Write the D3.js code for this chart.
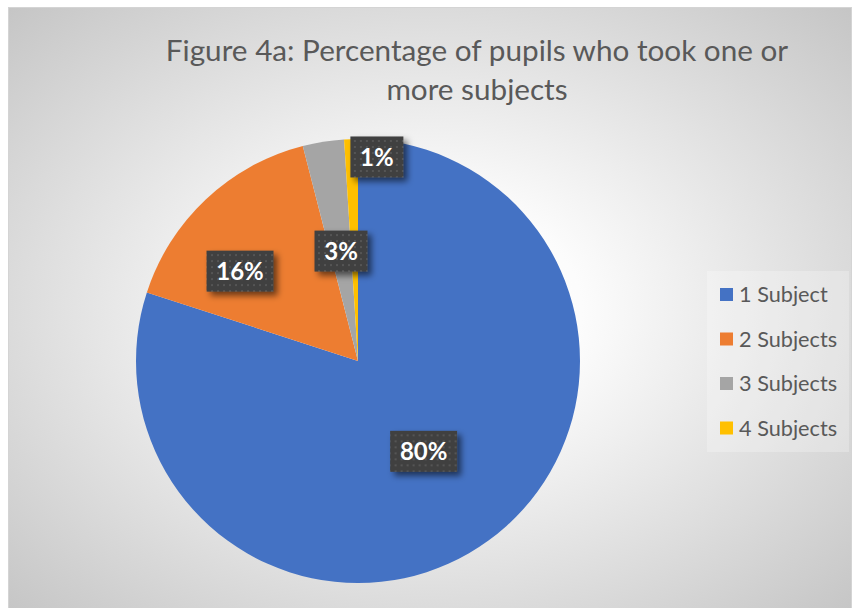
<!DOCTYPE html>
<html>
<head>
<meta charset="utf-8">
<script src="https://cdn.jsdelivr.net/npm/d3@7"></script>
<style>
  html, body { margin: 0; padding: 0; background: #ffffff; }
  svg { display: block; }
</style>
</head>
<body>
<svg id="chart" width="853" height="608"></svg>
<script>
// ---- data ----
const categories = ["1 Subject", "2 Subjects", "3 Subjects", "4 Subjects"];
const values = [80, 16, 3, 1];
const sliceColors = ["#4472C4", "#ED7D31", "#A5A5A5", "#FFC000"];
const titleLines = ["Figure 4a: Percentage of pupils who took one or", "more subjects"];

// ---- label placement (best-fit style): fraction of the radius and
// position along the slice's angular span (0 = start, 1 = end) ----
const labelRadiusFrac = [0.503, 0.668, 0.501, 0.923];
const labelSpanFrac = [0.5, 0.335, 0.52, 2.47];

const W = 853, H = 608;
const svg = d3.select("#chart");
const defs = svg.append("defs");

// chart-area background: radial fade from white to grey
const grad = defs.append("radialGradient")
  .attr("id", "bg").attr("cx", "0.5").attr("cy", "0.5").attr("r", "0.72");
grad.append("stop").attr("offset", "0").attr("stop-color", "#ffffff");
grad.append("stop").attr("offset", "0.25").attr("stop-color", "#fcfcfc");
grad.append("stop").attr("offset", "1").attr("stop-color", "#c4c4c4");

// dotted fill for the data-label callouts
const pat = defs.append("pattern")
  .attr("id", "dots").attr("patternUnits", "userSpaceOnUse")
  .attr("width", 6).attr("height", 6);
pat.append("rect").attr("width", 6).attr("height", 6).attr("fill", "#404040");
pat.append("rect").attr("x", 1).attr("y", 1).attr("width", 2).attr("height", 2).attr("fill", "#555555");

const shadow = defs.append("filter").attr("id", "shadow")
  .attr("x", "-30%").attr("y", "-30%").attr("width", "170%").attr("height", "170%");
shadow.append("feDropShadow").attr("dx", 4).attr("dy", 4)
  .attr("stdDeviation", 3).attr("flood-color", "#000").attr("flood-opacity", 0.55);

// chart area
svg.append("rect")
  .attr("x", 8.5).attr("y", 7.5).attr("width", 843).attr("height", 605)
  .attr("fill", "url(#bg)").attr("stroke", "#d4d4d4").attr("stroke-width", 1);

// title
svg.append("text")
  .attr("x", 477).attr("y", 61)
  .attr("text-anchor", "middle")
  .attr("font-family", "Lato, 'Open Sans', sans-serif")
  .attr("font-size", 29.7).attr("fill", "#595959")
  .selectAll("tspan").data(titleLines).join("tspan")
  .attr("x", 477).attr("dy", (d, i) => i === 0 ? 0 : 39)
  .text(d => d);

// pie
const cx = 358, cy = 361, R = 222;
const pie = d3.pie().sort(null).value(d => d.value);
const arcs = pie(categories.map((c, i) => ({ cat: c, value: values[i], i })));
const arc = d3.arc().innerRadius(0).outerRadius(R);

const g = svg.append("g").attr("transform", `translate(${cx},${cy})`);
g.selectAll("path.slice").data(arcs).join("path")
  .attr("class", "slice")
  .attr("d", arc)
  .attr("fill", d => sliceColors[d.data.i]);

// data labels
const total = d3.sum(values);
const fmt = v => Math.round(v / total * 100) + "%";
const lab = g.selectAll("g.lab").data(arcs).join("g").attr("class", "lab")
  .attr("transform", d => {
    const i = d.data.i;
    const a = d.startAngle + (d.endAngle - d.startAngle) * labelSpanFrac[i];
    const rr = R * labelRadiusFrac[i];
    return `translate(${rr * Math.sin(a)},${-rr * Math.cos(a)})`;
  });
const boxes = lab.append("rect").attr("fill", "url(#dots)").attr("filter", "url(#shadow)");
const texts = lab.append("text")
  .attr("text-anchor", "middle").attr("dy", "0.36em")
  .attr("font-family", "Lato, 'Open Sans', sans-serif")
  .attr("font-weight", "bold").attr("font-size", 24)
  .attr("fill", "#ffffff")
  .text(d => fmt(d.data.value));
texts.each(function(d) {
  const w = this.getComputedTextLength();
  const bw = Math.round(w + 19), bh = 41;
  d3.select(this.parentNode).select("rect")
    .attr("x", -bw / 2).attr("y", -bh / 2).attr("width", bw).attr("height", bh);
});

// legend
svg.append("rect")
  .attr("x", 707).attr("y", 271).attr("width", 142).attr("height", 181)
  .attr("fill", "#ffffff").attr("fill-opacity", 0.25);
const legY = d3.scalePoint().domain(categories).range([294.5, 428]);
const leg = svg.selectAll("g.leg").data(categories).join("g").attr("class", "leg")
  .attr("transform", d => `translate(720,${legY(d)})`);
leg.append("rect").attr("x", 0).attr("y", -6.5).attr("width", 13).attr("height", 13)
  .attr("fill", (d, i) => sliceColors[i]);
leg.append("text").attr("x", 19).attr("dy", "0.36em")
  .attr("font-family", "Lato, 'Open Sans', sans-serif")
  .attr("font-size", 21.7).attr("fill", "#595959")
  .text(d => d);
</script>
</body>
</html>
